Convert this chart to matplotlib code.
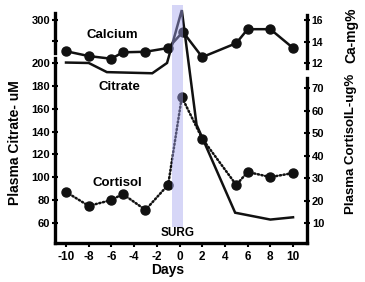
#!/usr/bin/env python3
"""Plasma citrate, calcium and cortisol around surgery (scanned figure redraw)"""

import numpy as np
import matplotlib
matplotlib.use('Agg')
import matplotlib.pyplot as plt

plt.rcParams['font.family'] = ['Liberation Sans', 'DejaVu Sans']
plt.rcParams['font.weight'] = 'bold'

# --- data ---
ca_days = [-10, -8, -6, -5, -3, -1, 0.3, 2, 5, 6, 8, 10]
ca_vals = [13.1, 12.65, 12.4, 13.0, 13.05, 13.4, 14.9, 12.55, 13.85, 15.15, 15.15, 13.4]

cit_days = [-10, -8, -6.4, -2.4, -1.1, 0.2, 1.5, 4.9, 8, 10]
cit_vals = [201, 200, 192, 191, 200, 323, 146, 69, 63, 65]

cor_days = [-10, -8, -6, -5, -3, -1, 0.2, 2, 5, 6, 8, 10]
cor_vals = [23.8, 17.6, 20.2, 22.9, 15.8, 27.0, 66, 47.5, 26.9, 32.7, 30.4, 32.2]

day_ticks = list(range(-10, 11, 2))
cit_ticks = [60, 80, 100, 120, 140, 160, 180, 200, 250, 300]
cit_labels = ['60', '80', '100', '120', '140', '160', '180', '200', '', '300']
ca_ticks = [12, 14, 16]
cor_ticks = [10, 20, 30, 40, 50, 60, 70]

# citrate axis is broken: above 200 uM it is squeezed
R = 0.376


def fwd(v):
    v = np.asarray(v, dtype=float)
    return np.where(v <= 200, v, 200 + (v - 200) * R)


def inv(u):
    u = np.asarray(u, dtype=float)
    return np.where(u <= 200, u, 200 + (u - 200) / R)


W, H = 365, 282
fig = plt.figure(figsize=(W / 100, H / 100), dpi=100)
ax = fig.add_axes([55 / W, 39 / H, 252 / W, 238 / H])
ax_ca = ax.twinx()
ax_cor = ax.twinx()

ax.set_yscale('function', functions=(fwd, inv))
ax.set_xlim(-10.97, 11.23)
ax.set_ylim(42.5, 334.9)
ax_ca.set_ylim(-4.74, 17.40)
ax_cor.set_ylim(1.11, 106.9)

lw = 1.8
ax.plot(cit_days, cit_vals, color='#111111', lw=lw, solid_joinstyle='miter')
ax_ca.plot(ca_days, ca_vals, color='#111111', lw=lw, marker='o', ms=6.5)
ax_cor.plot(cor_days, cor_vals, color='#111111', lw=1.8, ls=(0, (0.5, 1.0)),
            marker='o', ms=6.5, dash_capstyle='round')

# surgery band on top of the lines
ax_cor.axvspan(-0.66, 0.31, ymin=(243 - 227) / 238, ymax=1.0,
               color='#a4a4ee', alpha=0.45, lw=0, zorder=5)

# spines
for a in (ax, ax_ca, ax_cor):
    for s in a.spines.values():
        s.set_visible(False)
        s.set_linewidth(2.4)
ax.spines['left'].set_visible(True)
ax.spines['left'].set_bounds(42.5, 211)
ax.spines['bottom'].set_visible(True)
ax_ca.spines['left'].set_visible(True)
ax_ca.spines['left'].set_bounds(12.93, 16.65)
ax_ca.spines['right'].set_visible(True)
ax_ca.spines['right'].set_bounds(11.53, 16.47)
ax_cor.spines['right'].set_visible(True)
ax_cor.spines['right'].set_bounds(1.11, 74.4)

# ticks
ax.set_xticks(day_ticks)
ax.set_xticklabels([str(d) for d in day_ticks])
ax.tick_params(axis='x', direction='out', length=3, width=1.5, pad=3, labelsize=8.5)
ax.set_yticks(cit_ticks)
ax.set_yticklabels(cit_labels)
ax.yaxis.set_minor_locator(matplotlib.ticker.NullLocator())
ax.tick_params(axis='y', direction='inout', length=5, width=1.5, pad=1, labelsize=8)
ax_ca.set_yticks(ca_ticks)
ax_ca.tick_params(axis='y', direction='inout', length=5, width=1.5, pad=1, labelsize=7.5)
ax_cor.set_yticks(cor_ticks)
ax_cor.tick_params(axis='y', direction='inout', length=5, width=1.5, pad=1, labelsize=8)
for a in (ax, ax_ca, ax_cor):
    for lab in a.get_xticklabels() + a.get_yticklabels():
        lab.set_fontweight('bold')

# texts
def ftext(x, y, s, **kw):
    fig.text(x / W, 1 - y / H, s, ha='center', va='center', fontweight='bold', **kw)


ftext(112, 35, 'Calcium', fontsize=9.5)
ftext(119, 87, 'Citrate', fontsize=9.5)
ftext(117, 183, 'Cortisol', fontsize=9.5)
ftext(178, 233, 'SURG', fontsize=8.5)
ftext(168, 270, 'Days', fontsize=10)
ftext(15, 143, 'Plasma Citrate- uM', fontsize=10, rotation=90)
ftext(351, 35, 'Ca-mg%', fontsize=10, rotation=90)
ftext(351, 144, 'Plasma CortisolL-ug%', fontsize=9.5, rotation=90)

fig.savefig('out.png', dpi=100)
